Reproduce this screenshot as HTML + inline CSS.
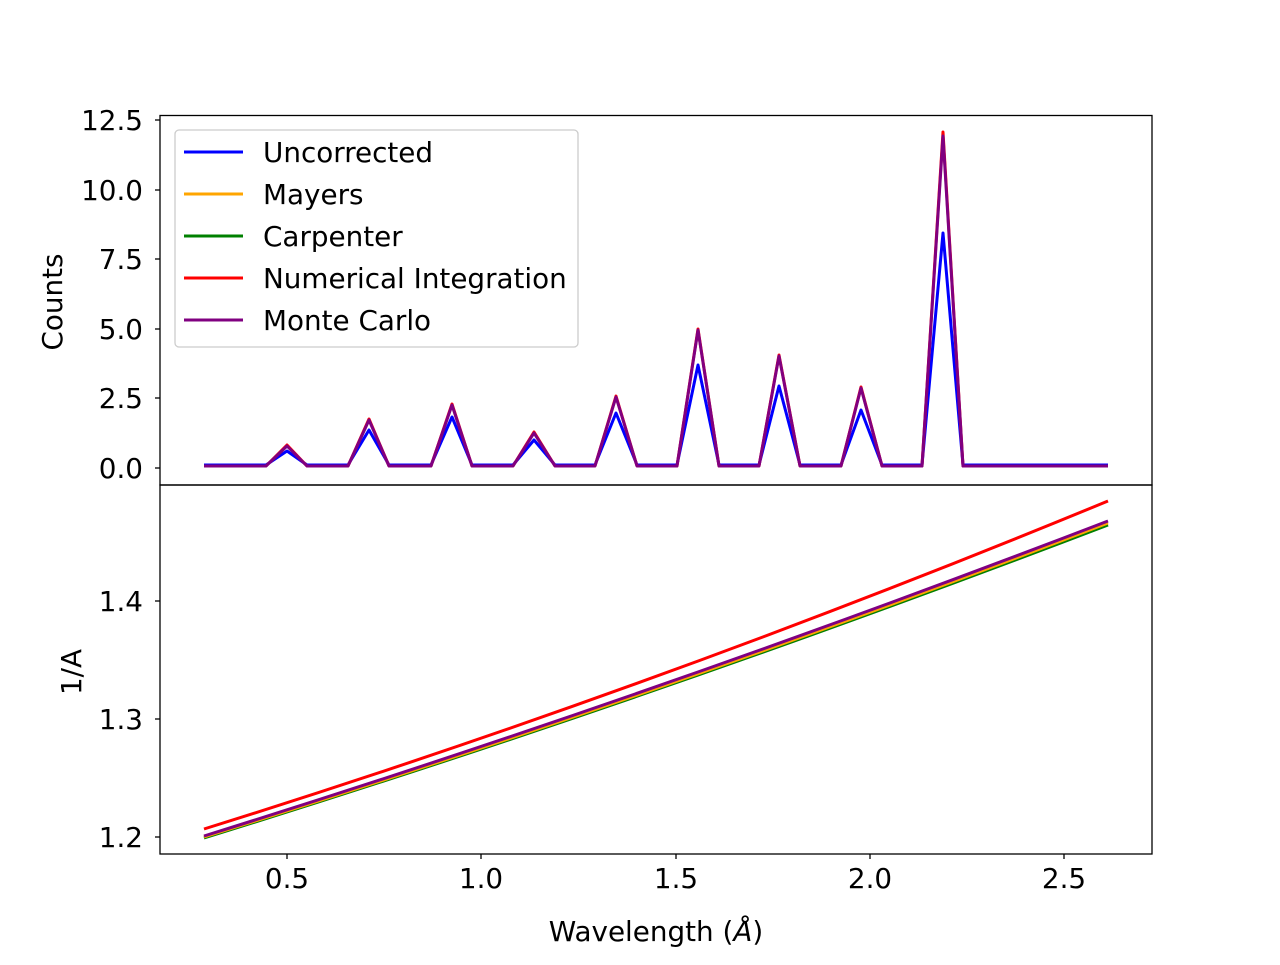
<!DOCTYPE html><html><head><style>body{margin:0;background:#fff}svg{font-family:"DejaVu Sans","Liberation Sans",sans-serif}</style></head><body>
<svg width="1280" height="960" xmlns="http://www.w3.org/2000/svg">
<rect width="1280" height="960" fill="#fff"/>
<g fill="none" stroke-width="3" stroke-linejoin="round">
<polyline stroke="#0000ff" points="204,465 266,465 287,451 307,465 348,465 369,430 389,465 431,465 452,417 472,465 513,465 534,440 555,465 595,465 616,413 637,465 677,465 698,365 719,465 759,465 779,386 800,465 841,465 861,410 882,465 922,465 943,233 963,465 1108,465"/>
<polyline stroke="#ff0000" points="204,466 266,466 287,445 307,466 348,466 369,419 389,466 431,466 452,404 472,466 513,466 534,432 555,466 595,466 616,396 637,466 677,466 698,329 719,466 759,466 779,355 800,466 841,466 861,387 882,466 922,466 943,132 963,466 1108,466"/>
<polyline stroke="#800080" points="204,466 266,466 287,446 307,466 348,466 369,420 389,466 431,466 452,405 472,466 513,466 534,433 555,466 595,466 616,397 637,466 677,466 698,330 719,466 759,466 779,356 800,466 841,466 861,388 882,466 922,466 943,136 963,466 1108,466"/>
<path stroke="#008000" d="M204,838 Q650,700 1108,525"/>
<path stroke="#ffa500" d="M204,837 Q650,699 1108,523"/>
<path stroke="#800080" d="M204,836 Q650,697 1108,521"/>
<path stroke="#ff0000" d="M204,829 Q650,690 1108,501"/>
</g>
<g stroke="#000" stroke-width="1.3" fill="none">
<rect x="160" y="115.5" width="992" height="369.5"/>
<rect x="160" y="485" width="992" height="369"/>
</g>
<g stroke="#000" stroke-width="1.3">
<line x1="155" x2="160" y1="120" y2="120"/><line x1="155" x2="160" y1="190" y2="190"/><line x1="155" x2="160" y1="259" y2="259"/><line x1="155" x2="160" y1="329" y2="329"/><line x1="155" x2="160" y1="398" y2="398"/><line x1="155" x2="160" y1="468" y2="468"/>
<line x1="155" x2="160" y1="601" y2="601"/><line x1="155" x2="160" y1="719" y2="719"/><line x1="155" x2="160" y1="837" y2="837"/>
<line y1="854" y2="859" x1="287" x2="287"/><line y1="854" y2="859" x1="481" x2="481"/><line y1="854" y2="859" x1="676" x2="676"/><line y1="854" y2="859" x1="870" x2="870"/><line y1="854" y2="859" x1="1064" x2="1064"/>
</g>
<g font-size="27.8" text-anchor="end" fill="#000">
<text x="143" y="130">12.5</text><text x="143" y="200">10.0</text><text x="143" y="269">7.5</text><text x="143" y="339">5.0</text><text x="143" y="408">2.5</text><text x="143" y="478">0.0</text>
<text x="143" y="611">1.4</text><text x="143" y="729">1.3</text><text x="143" y="847">1.2</text>
</g>
<g font-size="27.8" text-anchor="middle" fill="#000">
<text x="287" y="888">0.5</text><text x="481" y="888">1.0</text><text x="676" y="888">1.5</text><text x="870" y="888">2.0</text><text x="1064" y="888">2.5</text>
<text x="656" y="941">Wavelength (<tspan font-style="italic">Å</tspan>)</text>
<text transform="translate(62,302) rotate(-90)">Counts</text>
<text transform="translate(81,672) rotate(-90)">1/A</text>
</g>
<rect x="175" y="130" width="403" height="217" rx="4" fill="#fff" fill-opacity="0.8" stroke="#ccc" stroke-width="1.3"/>
<g stroke-width="3">
<line x1="184" x2="243" y1="152" y2="152" stroke="#0000ff"/>
<line x1="184" x2="243" y1="194" y2="194" stroke="#ffa500"/>
<line x1="184" x2="243" y1="236" y2="236" stroke="#008000"/>
<line x1="184" x2="243" y1="278" y2="278" stroke="#ff0000"/>
<line x1="184" x2="243" y1="320" y2="320" stroke="#800080"/>
</g>
<g font-size="27.8" fill="#000">
<text x="263" y="162">Uncorrected</text><text x="263" y="204">Mayers</text><text x="263" y="246">Carpenter</text><text x="263" y="288">Numerical Integration</text><text x="263" y="330">Monte Carlo</text>
</g>
</svg></body></html>
